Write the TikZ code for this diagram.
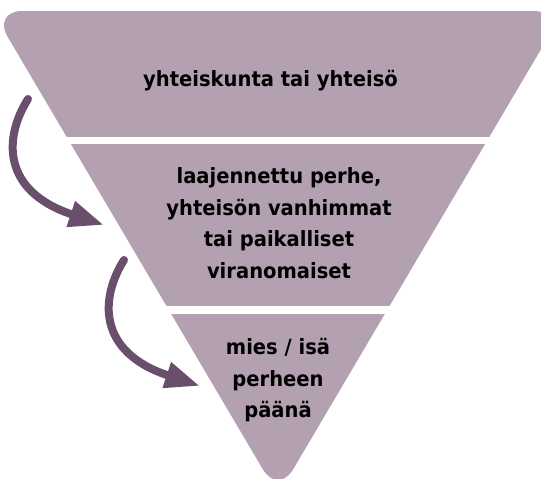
\documentclass[tikz,border=0pt]{standalone}
\usepackage{fontspec}
\setmainfont[FakeStretch=0.93]{DejaVu Sans}
\usetikzlibrary{arrows.meta}
\definecolor{pyrfill}{HTML}{B3A1B1}
\definecolor{arrcol}{HTML}{6A4F6C}
\newcommand{\pyrshape}{(278,11) -- (563.6,11) -- (278,495) -- (-7.6,11) -- cycle}

\begin{document}
\begin{tikzpicture}[
	x=1pt, y=-1pt,
	band/.style={fill=pyrfill, rounded corners=30pt},
	lbl/.style={font=\bfseries\fontsize{21}{31.5}\selectfont, align=center, inner sep=0pt},
	arr/.style={draw=arrcol, line width=8pt, line cap=round, -{Triangle[length=35pt,width=25pt]}},
	]
	\useasboundingbox (0,0) rectangle (541,479);
	\clip (0,0) rectangle (541,479);

	% three bands of the pyramid
	\foreach \ya/\yb in {0/136, 144/305.5, 314/500} {
		\begin{scope}
			\clip (-20,\ya) rectangle (600,\yb);
			\fill [band] \pyrshape;
		\end{scope}
	}

	\node [lbl, anchor=base] (soc) at (270.5,86) {yhteiskunta tai yhteisö};
	\node [lbl] (fam) at (279,223) {laajennettu perhe,\\yhteisön vanhimmat\\tai paikalliset\\viranomaiset};
	\node [lbl] (head) at (278,380.5) {mies / isä\\perheen\\päänä};

	\coordinate (s1) at (28,99);
	\coordinate (e1) at (104,225);
	\coordinate (s2) at (124,260);
	\coordinate (e2) at (200,386);

	\path [arr] (s1) .. controls +(-24,38) and +(-103,-34) .. (e1);
	\path [arr] (s2) .. controls +(-24,38) and +(-103,-34) .. (e2);
\end{tikzpicture}
\end{document}
